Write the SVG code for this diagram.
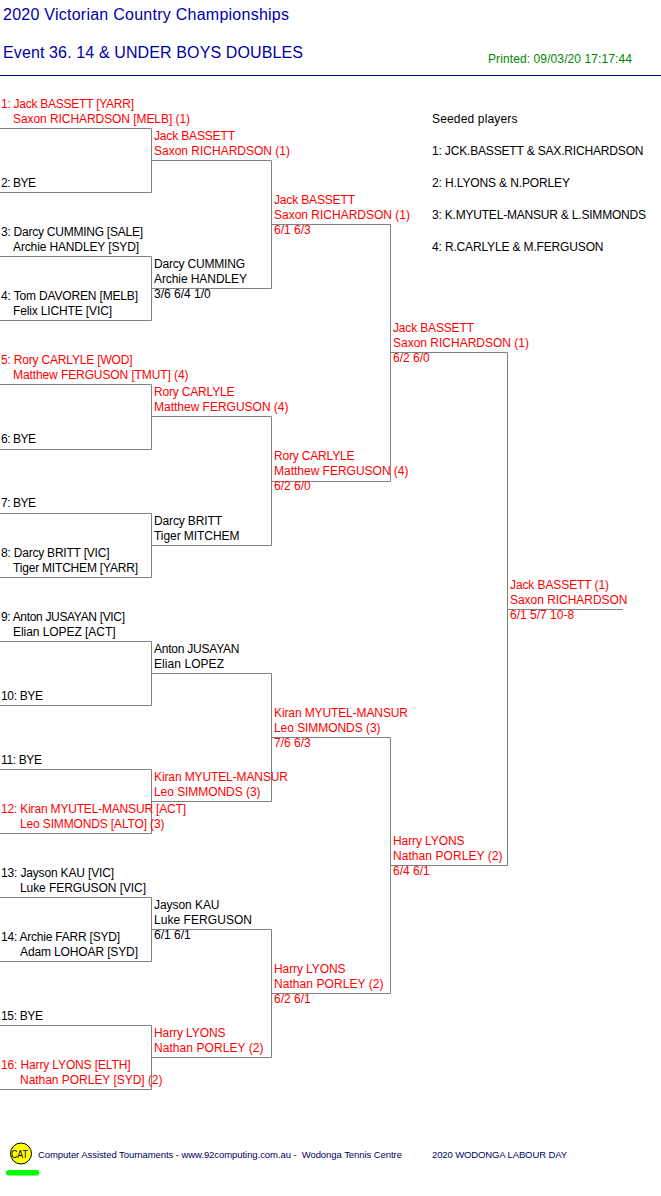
<svg xmlns="http://www.w3.org/2000/svg" width="661" height="1196" viewBox="0 0 661 1196">
<style>
text{font-family:"Liberation Sans",Arial,sans-serif;font-size:12px;fill:#000}
.r text{fill:#f00}
.t{font-size:16px;fill:#00a}
.p{fill:#080}
.f{font-size:9.5px;fill:#006;white-space:pre}
.c{fill:none;stroke:#808080;stroke-width:1}
</style>
<rect width="661" height="1196" fill="#fff"/>
<g id="header">
<text class="t" x="3" y="20" textLength="286">2020 Victorian Country Championships</text>
<text class="t" x="3" y="58" textLength="300">Event 36. 14 &amp; UNDER BOYS DOUBLES</text>
<text class="p" x="488" y="63" textLength="144">Printed: 09/03/20 17:17:44</text>
<path d="M0 75.500H661" stroke="#00007a" fill="none"/>
</g>
<g id="seeds">
<text x="432" y="123" textLength="85.500">Seeded players</text>
<text x="432" y="155" textLength="211.500">1: JCK.BASSETT &amp; SAX.RICHARDSON</text>
<text x="432" y="187" textLength="138">2: H.LYONS &amp; N.PORLEY</text>
<text x="432" y="219" textLength="214">3: K.MYUTEL-MANSUR &amp; L.SIMMONDS</text>
<text x="432" y="251" textLength="171.500">4: R.CARLYLE &amp; M.FERGUSON</text>
</g>
<g id="connectors" class="c">
<path d="M0 128.500H151.500V192.500H0"/>
<path d="M0 256.500H151.500V320.500H0"/>
<path d="M0 384.500H151.500V449.500H0"/>
<path d="M0 513.500H151.500V577.500H0"/>
<path d="M0 641.500H151.500V705.500H0"/>
<path d="M0 769.500H151.500V833.500H0"/>
<path d="M0 897.500H151.500V961.500H0"/>
<path d="M0 1025.500H151.500V1089.500H0"/>
<path d="M151.500 160.500H271.500V288.500H151.500"/>
<path d="M151.500 416.500H271.500V545.500H151.500"/>
<path d="M151.500 673.500H271.500V801.500H151.500"/>
<path d="M151.500 929.500H271.500V1057.500H151.500"/>
<path d="M271.500 224.500H390.500V481.500H271.500"/>
<path d="M271.500 737.500H390.500V993.500H271.500"/>
<path d="M390.500 352.500H507.500V865.500H390.500"/>
<path d="M507.500 609.500H623"/>
</g>
<g id="entry-1" class="r"><text x="1" y="108" textLength="133">1: Jack BASSETT [YARR]</text><text x="13" y="123" textLength="177">Saxon RICHARDSON [MELB] (1)</text></g>
<g id="entry-2"><text x="1" y="187" textLength="35">2: BYE</text></g>
<g id="entry-3"><text x="1" y="236" textLength="142">3: Darcy CUMMING [SALE]</text><text x="13" y="251" textLength="126">Archie HANDLEY [SYD]</text></g>
<g id="entry-4"><text x="1" y="300" textLength="137">4: Tom DAVOREN [MELB]</text><text x="13" y="315" textLength="99">Felix LICHTE [VIC]</text></g>
<g id="entry-5" class="r"><text x="1" y="364" textLength="131.500">5: Rory CARLYLE [WOD]</text><text x="13" y="379" textLength="175.500">Matthew FERGUSON [TMUT] (4)</text></g>
<g id="entry-6"><text x="1" y="443" textLength="35">6: BYE</text></g>
<g id="entry-7"><text x="1" y="507" textLength="35">7: BYE</text></g>
<g id="entry-8"><text x="1" y="557" textLength="108.500">8: Darcy BRITT [VIC]</text><text x="13" y="572" textLength="125">Tiger MITCHEM [YARR]</text></g>
<g id="entry-9"><text x="1" y="621" textLength="124">9: Anton JUSAYAN [VIC]</text><text x="13" y="636" textLength="102.500">Elian LOPEZ [ACT]</text></g>
<g id="entry-10"><text x="1" y="700" textLength="42">10: BYE</text></g>
<g id="entry-11"><text x="1" y="764" textLength="41">11: BYE</text></g>
<g id="entry-12" class="r"><text x="1" y="813" textLength="185">12: Kiran MYUTEL-MANSUR [ACT]</text><text x="20" y="828" textLength="144.500">Leo SIMMONDS [ALTO] (3)</text></g>
<g id="entry-13"><text x="1" y="877" textLength="113">13: Jayson KAU [VIC]</text><text x="20" y="892" textLength="126">Luke FERGUSON [VIC]</text></g>
<g id="entry-14"><text x="1" y="941" textLength="119">14: Archie FARR [SYD]</text><text x="20" y="956" textLength="118">Adam LOHOAR [SYD]</text></g>
<g id="entry-15"><text x="1" y="1020" textLength="42">15: BYE</text></g>
<g id="entry-16" class="r"><text x="1" y="1069" textLength="129.500">16: Harry LYONS [ELTH]</text><text x="20" y="1084" textLength="142.500">Nathan PORLEY [SYD] (2)</text></g>
<g id="r2-1" class="r"><text x="154" y="140" textLength="81">Jack BASSETT</text><text x="154" y="155" textLength="136">Saxon RICHARDSON (1)</text></g>
<g id="r2-2"><text x="154" y="268" textLength="91">Darcy CUMMING</text><text x="154" y="283" textLength="93">Archie HANDLEY</text><text x="154" y="298">3/6 6/4 1/0</text></g>
<g id="r2-3" class="r"><text x="154" y="396" textLength="80.500">Rory CARLYLE</text><text x="154" y="411" textLength="134.500">Matthew FERGUSON (4)</text></g>
<g id="r2-4"><text x="154" y="525" textLength="68">Darcy BRITT</text><text x="154" y="540" textLength="85.500">Tiger MITCHEM</text></g>
<g id="r2-5"><text x="154" y="653" textLength="85.500">Anton JUSAYAN</text><text x="154" y="668" textLength="70">Elian LOPEZ</text></g>
<g id="r2-6" class="r"><text x="154" y="781" textLength="134">Kiran MYUTEL-MANSUR</text><text x="154" y="796" textLength="106.500">Leo SIMMONDS (3)</text></g>
<g id="r2-7"><text x="154" y="909" textLength="65.500">Jayson KAU</text><text x="154" y="924" textLength="98">Luke FERGUSON</text><text x="154" y="939">6/1 6/1</text></g>
<g id="r2-8" class="r"><text x="154" y="1037" textLength="71.500">Harry LYONS</text><text x="154" y="1052" textLength="109.500">Nathan PORLEY (2)</text></g>
<g id="r3-1" class="r"><text x="274" y="204" textLength="81">Jack BASSETT</text><text x="274" y="219" textLength="136">Saxon RICHARDSON (1)</text><text x="274" y="234">6/1 6/3</text></g>
<g id="r3-2" class="r"><text x="274" y="460" textLength="80.500">Rory CARLYLE</text><text x="274" y="475" textLength="134.500">Matthew FERGUSON (4)</text><text x="274" y="490">6/2 6/0</text></g>
<g id="r3-3" class="r"><text x="274" y="717" textLength="134">Kiran MYUTEL-MANSUR</text><text x="274" y="732" textLength="106.500">Leo SIMMONDS (3)</text><text x="274" y="747">7/6 6/3</text></g>
<g id="r3-4" class="r"><text x="274" y="973" textLength="71.500">Harry LYONS</text><text x="274" y="988" textLength="109.500">Nathan PORLEY (2)</text><text x="274" y="1003">6/2 6/1</text></g>
<g id="r4-1" class="r"><text x="393" y="332" textLength="81">Jack BASSETT</text><text x="393" y="347" textLength="136">Saxon RICHARDSON (1)</text><text x="393" y="362">6/2 6/0</text></g>
<g id="r4-2" class="r"><text x="393" y="845" textLength="71.500">Harry LYONS</text><text x="393" y="860" textLength="109.500">Nathan PORLEY (2)</text><text x="393" y="875">6/4 6/1</text></g>
<g id="final" class="r"><text x="510" y="589" textLength="99">Jack BASSETT (1)</text><text x="510" y="604" textLength="117.500">Saxon RICHARDSON</text><text x="510" y="619">6/1 5/7 10-8</text></g>
<g id="footer">
<circle cx="21" cy="1153.500" r="10.500" fill="#ff0" stroke="#000"/>
<text x="11" y="1158" textLength="17" lengthAdjust="spacingAndGlyphs" style="font-size:11px">CAT</text>
<path d="M8.500 1172.700H36.500" stroke="#0f0" stroke-width="5.500" stroke-linecap="round" fill="none"/>
<text class="f" x="38" y="1158" textLength="364">Computer Assisted Tournaments - www.92computing.com.au -  Wodonga Tennis Centre</text>
<text class="f" x="432" y="1158" textLength="135">2020 WODONGA LABOUR DAY</text>
</g>
</svg>
